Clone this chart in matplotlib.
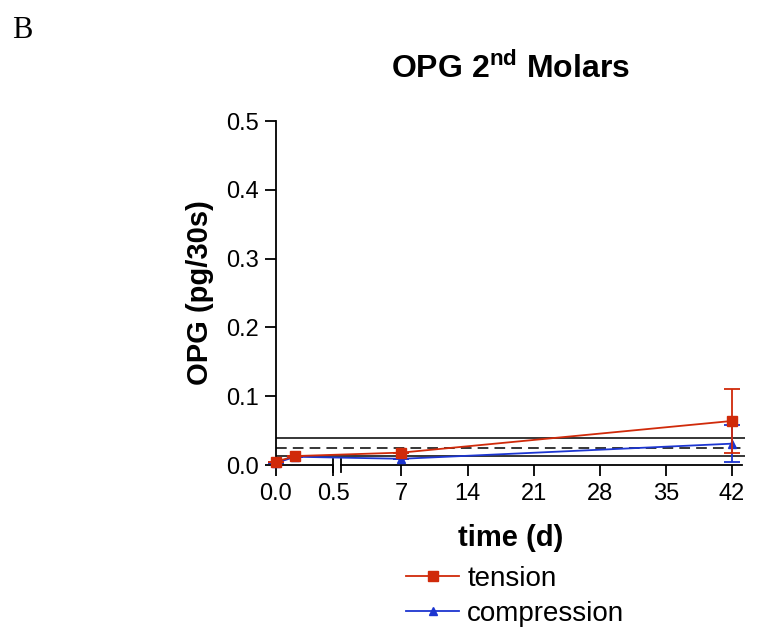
import numpy as np
import matplotlib
matplotlib.use("Agg")
import matplotlib.pyplot as plt
from matplotlib.transforms import blended_transform_factory

plt.rcParams['font.family'] = ['Liberation Sans', 'DejaVu Sans']
plt.rcParams['mathtext.fontset'] = 'custom'
plt.rcParams['mathtext.rm'] = 'Liberation Sans'
plt.rcParams['mathtext.bf'] = 'Liberation Sans:bold'

# data
time_d = [0.0, 0.17, 7, 42]
tension = [0.005, 0.013, 0.018, 0.064]
tension_err = [0.0, 0.0, 0.0, 0.047]
compression = [0.003, 0.012, 0.009, 0.031]
compression_err = [0.0, 0.0, 0.0, 0.027]
ref_upper = 0.039
ref_mean = 0.024
ref_lower = 0.0135
left_ticks = [0.0, 0.5]
right_ticks = [7, 14, 21, 28, 35, 42]
y_ticks = [0.0, 0.1, 0.2, 0.3, 0.4, 0.5]

# broken x scale: [0,0.5] wide, gap [0.5,0.6], then compressed days
K1 = 114.0
GAP = 8.0
K2 = 66.0 / 7.0

def fwd(x):
    x = np.asarray(x, dtype=float)
    return np.where(x <= 0.5, x * K1,
                    np.where(x <= 0.6, 0.5 * K1 + (x - 0.5) / 0.1 * GAP,
                             0.5 * K1 + GAP + (x - 0.6) * K2))

def inv(u):
    u = np.asarray(u, dtype=float)
    b1 = 0.5 * K1
    b2 = b1 + GAP
    return np.where(u <= b1, u / K1,
                    np.where(u <= b2, 0.5 + (u - b1) / GAP * 0.1,
                             0.6 + (u - b2) / K2))

fig = plt.figure(figsize=(7.6, 6.3), dpi=100)
ax = fig.add_axes([276 / 760, (630 - 465) / 630, 469 / 760, 344 / 630])
ax.set_xscale('function', functions=(fwd, inv))
ax.set_xlim(0, 43.4)
ax.set_ylim(0, 0.5)

red = '#D02A0A'
blue = '#1C35D0'

for yv, ls in [(ref_upper, '-'), (ref_mean, (0, (7, 4))), (ref_lower, '-')]:
    ax.axhline(yv, color='black', lw=1.1, ls=ls, zorder=1)

ax.errorbar(time_d, compression, yerr=compression_err, fmt='none', ecolor=blue,
            capsize=6, capthick=1.3, elinewidth=1.3, zorder=2, clip_on=False)
l_comp, = ax.plot(time_d, compression, color=blue, lw=1.3, marker='^', ms=6,
                  label='compression', zorder=3, clip_on=False)
ax.errorbar(time_d, tension, yerr=tension_err, fmt='none', ecolor=red,
            capsize=6, capthick=1.3, elinewidth=1.3, zorder=4, clip_on=False)
l_ten, = ax.plot(time_d, tension, color=red, lw=1.3, marker='s', ms=7,
                 label='tension', zorder=5, clip_on=False)

for s in ['top', 'right', 'bottom']:
    ax.spines[s].set_visible(False)
ax.spines['left'].set_linewidth(1.3)

tr = blended_transform_factory(ax.transData, ax.transAxes)
ax.plot([0, 0.5], [0, 0], color='black', lw=1.3, transform=tr, clip_on=False)
ax.plot([0.6, 43.1], [0, 0], color='black', lw=1.3, transform=tr, clip_on=False)
for xb in [0.5, 0.6]:
    ax.plot([xb, xb], [-0.02, 0.018], color='black', lw=1.3, transform=tr, clip_on=False)

ax.set_xticks(left_ticks + right_ticks)
ax.set_xticklabels(['0.0', '0.5'] + [str(t) for t in right_ticks])
ax.set_yticks(y_ticks)
ax.set_yticklabels([f'{v:.1f}' for v in y_ticks])
ax.tick_params(axis='both', direction='out', length=8, width=1.3, labelsize=17)
ax.tick_params(axis='x', pad=5)
ax.tick_params(axis='y', pad=4)

ax.set_xlabel('time (d)', fontsize=21, fontweight='bold', labelpad=14)
ax.set_ylabel('OPG (pg/30s)', fontsize=21, fontweight='bold', labelpad=9)
ax.set_title(r'OPG 2$^{\bf nd}$ Molars', fontsize=23, fontweight='bold', pad=31)

fig.legend([l_ten, l_comp], ['tension', 'compression'], loc='upper left',
           bbox_to_anchor=(395 / 760, 1 - 555 / 630), frameon=False,
           fontsize=20, handlelength=1.9, handletextpad=0.3, labelspacing=0.32,
           borderaxespad=0)

fig.text(12 / 760, 1 - 30 / 630, 'B', fontsize=22, family='Liberation Serif',
         va='center', ha='left')

fig.savefig('out.png', dpi=100)
